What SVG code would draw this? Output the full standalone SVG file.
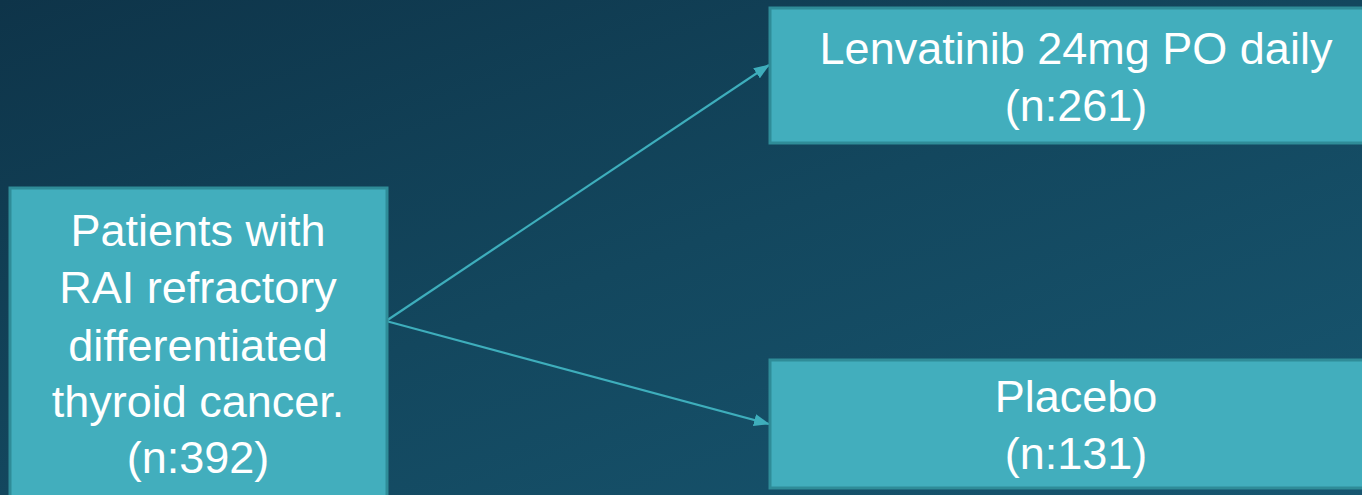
<svg xmlns="http://www.w3.org/2000/svg" width="1362" height="495" viewBox="0 0 1362 495">
<style>
.box{fill:#42aebd;stroke:#2f8c98;stroke-width:3}
.t{font-family:"Liberation Sans",Arial,sans-serif;font-size:45px;fill:#ffffff;text-anchor:middle}
.c{stroke:#3eaebc;stroke-width:2.2;fill:none;marker-end:url(#ah)}
</style>
<defs>
<linearGradient id="bg" x1="0" y1="0" x2="1" y2="1">
<stop offset="0" stop-color="#0e3449"/>
<stop offset="0.5" stop-color="#13475e"/>
<stop offset="1" stop-color="#175670"/>
</linearGradient>
<marker id="ah" markerWidth="16" markerHeight="12" refX="15" refY="6" orient="auto" markerUnits="userSpaceOnUse" viewBox="0 0 16 12">
<path d="M0,0 L16,6 L0,12 Z" fill="#3eaebc"/>
</marker>
</defs>
<rect width="1362" height="495" fill="url(#bg)"/>
<g id="connectors">
<line class="c" x1="386" y1="321" x2="769" y2="65"/>
<line class="c" x1="386" y1="321" x2="769" y2="424"/>
</g>
<g id="patients">
<rect class="box" x="10" y="188" width="377" height="320"/>
<text class="t" x="198" y="246">Patients with</text>
<text class="t" x="198" y="303">RAI refractory</text>
<text class="t" x="198" y="361">differentiated</text>
<text class="t" x="198" y="417">thyroid cancer.</text>
<text class="t" x="198" y="473">(n:392)</text>
</g>
<g id="lenvatinib">
<rect class="box" x="770" y="8" width="610" height="135"/>
<text class="t" x="1076" y="64">Lenvatinib 24mg PO daily</text>
<text class="t" x="1076" y="121">(n:261)</text>
</g>
<g id="placebo">
<rect class="box" x="770" y="360" width="610" height="128"/>
<text class="t" x="1076" y="412">Placebo</text>
<text class="t" x="1076" y="469">(n:131)</text>
</g>
</svg>
